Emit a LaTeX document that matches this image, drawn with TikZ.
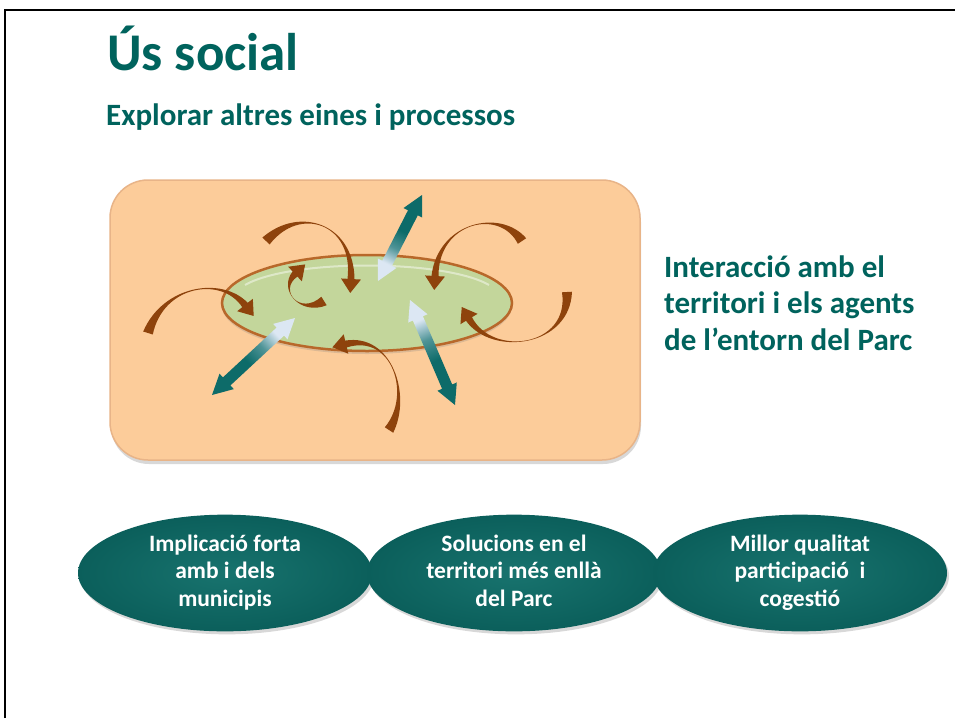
\documentclass[tikz,border=0pt]{standalone}
\usepackage{fontspec}
\setmainfont{Carlito}
\usetikzlibrary{arrows.meta,calc,shapes.geometric,shadows}
\definecolor{tealtxt}{HTML}{00635D}
\definecolor{bubin}{HTML}{18736E}
\definecolor{bubout}{HTML}{0B5F5B}
\definecolor{peach}{HTML}{FCCC9A}
\definecolor{peachb}{HTML}{E8B488}
\definecolor{greenf}{HTML}{C3D69B}
\definecolor{brownb}{HTML}{B8682A}
\definecolor{brownc}{HTML}{8E430C}
\definecolor{tealdark}{HTML}{0D6B69}
\definecolor{tealmid}{HTML}{4F9497}
\definecolor{teallight}{HTML}{DCE7F3}
\pgfdeclareverticalshading{tealgrad}{100bp}{color(0bp)=(teallight); color(30bp)=(teallight); color(42bp)=(tealmid); color(55bp)=(tealdark); color(100bp)=(tealdark)}
% double arrow: #1 dark tip, #2 light tip, #3 shading angle
\newcommand{\tealarrow}[3]{%
  \shade[shading=tealgrad, shading angle=#3]
  (#1) -- ($(#1)!20pt!(#2)!10.5pt!90:(#2)$) -- ($(#1)!20pt!(#2)!5.5pt!90:(#2)$)
  -- ($(#2)!20pt!(#1)!5.5pt!-90:(#1)$) -- ($(#2)!20pt!(#1)!10.5pt!-90:(#1)$) -- (#2)
  -- ($(#2)!20pt!(#1)!10.5pt!90:(#1)$) -- ($(#2)!20pt!(#1)!5.5pt!90:(#1)$)
  -- ($(#1)!20pt!(#2)!5.5pt!-90:(#2)$) -- ($(#1)!20pt!(#2)!10.5pt!-90:(#2)$) -- cycle;}
% twisted ribbon arrow: start #1, controls #2 #3, head base #4
\newcommand{\ribbon}[4]{%
  \fill[brownc] ($(#1)!5pt!90:(#2)$) .. controls (#2) and (#3) .. ($(#4)!3.5pt!-90:(#3)$)
  -- ($(#4)!10pt!-90:(#3)$) -- ($(#4)!14pt!180:(#3)$) -- ($(#4)!10pt!90:(#3)$)
  -- ($(#4)!3.5pt!90:(#3)$) .. controls (#3) and (#2) .. ($(#1)!5pt!-90:(#2)$) -- cycle;}
\tikzset{
  heading/.style={anchor=base west, inner sep=0pt, text=tealtxt},
  bubble/.style={ellipse, minimum width=294pt, minimum height=116pt, inner sep=0pt,
    inner color=bubin, outer color=bubout, text=white, align=center,
    font=\fontsize{23.5}{27.5}\selectfont\bfseries,
    drop shadow={shadow xshift=2pt, shadow yshift=-3pt, opacity=0.3}},
}
\begin{document}
\begin{tikzpicture}[x=1pt,y=-1pt]
\useasboundingbox (0,0) rectangle (955,718);
\fill[white] (0,0) rectangle (955,718);
\draw[line width=2pt] (5,718) -- (5,10) -- (956,10);

\node[heading, font=\fontsize{53}{60}\selectfont\bfseries] (title) at (107,70) {Ús social};
\node[heading, font=\fontsize{31}{36}\selectfont\bfseries] (sub) at (106,125) {Explorar altres eines i processos};

\node[rectangle, rounded corners=38pt, minimum width=530pt, minimum height=280pt,
  fill=peach, draw=peachb, line width=1.5pt,
  drop shadow={shadow xshift=1pt, shadow yshift=-4pt, opacity=0.3}] (panel) at (375,320) {};
\node[ellipse, minimum width=290pt, minimum height=96pt, fill=greenf, draw=brownb, line width=2.5pt,
  drop shadow={shadow xshift=0pt, shadow yshift=-3pt, opacity=0.25}] (core) at (367,303) {};
\draw[white, opacity=0.45, line width=2pt] (245,285) .. controls (290,259) and (444,259) .. (489,285);

% brown twisted arrows
\ribbon{266,241}{300,205}{354,224}{351,279}
\ribbon{324,301}{300,316}{278,290}{295,274}
\ribbon{148,333}{163,285}{222,276}{245,305}
\ribbon{522,241}{500,208}{438,222}{435,276}
\ribbon{567,292}{570,347}{492,357}{469,319}
\ribbon{389,430}{412,395}{392,333}{346,344}

% teal double arrows
\coordinate (t1a) at (422,195); \coordinate (t1b) at (378,281);
\coordinate (t2a) at (212,395); \coordinate (t2b) at (295,318);
\coordinate (t3a) at (455,405); \coordinate (t3b) at (410,300);
\tealarrow{t1a}{t1b}{-27}
\tealarrow{t2a}{t2b}{133}
\tealarrow{t3a}{t3b}{-157}

\node[anchor=west, align=left, inner sep=0pt, text=tealtxt, font=\fontsize{31}{36.5}\selectfont\bfseries] (inter) at (664,303)
  {Interacció amb el\\territori i els agents\\de l’entorn del Parc};

\node[bubble] (b1) at (225,573) {\strut Implicació forta\\amb i dels\\municipis\strut};
\node[bubble] (b2) at (514,573) {\strut Solucions en el\\territori més enllà\\del Parc\strut};
\node[bubble] (b3) at (800,573) {\strut Millor qualitat\\participació~ i\\cogestió\strut};
\end{tikzpicture}
\end{document}
